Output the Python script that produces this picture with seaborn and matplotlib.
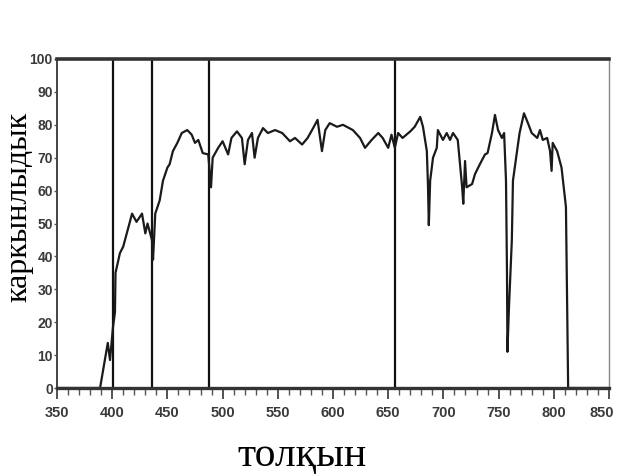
import numpy as np
import pandas as pd
import matplotlib
matplotlib.use("Agg")
import matplotlib.pyplot as plt
import matplotlib.transforms as mtransforms
import seaborn as sns

# ---- data ----
wavelength = [350, 380, 389, 396, 398, 400.7, 402.5, 403, 407, 410, 414, 418, 422, 427, 430, 432,
              436, 437, 439, 443, 446, 450, 452, 455, 459, 463, 468, 472, 475, 478, 482,
              487, 489.5, 491, 496, 500, 505, 508, 513, 517.5, 520, 523, 526.6, 529, 532,
              536.6, 541, 547.5, 554, 561, 565.6, 572, 577, 582, 586, 590, 593, 597, 603.6,
              609, 618, 624.5, 629, 635, 641, 645, 650, 653, 656, 659, 663, 670, 674, 679,
              681.5, 685, 686, 686.8, 688, 690.6, 694, 695, 699.6, 703, 706, 708.7, 713,
              717, 718, 719.6, 721, 726, 728.6, 733, 737.7, 740, 744, 746.7, 749.5, 753,
              755, 756.7, 757.6, 758, 759.4, 762, 763, 766.7, 769, 773, 776.6, 780, 785,
              787.5, 790, 794, 796.6, 798, 799, 803, 807, 808, 811, 812, 813, 830, 850]
intensity = [0, 0, 0, 13.7, 8.5, 18.5, 23, 35, 41, 43, 48, 53, 50.5, 53, 47, 50,
             45, 39, 53, 57, 63, 67, 68, 72, 74.5, 77.5, 78.4, 77, 74.5, 75.4, 71.4,
             71, 61, 70, 73, 75, 71, 76, 78, 76, 68, 75.4, 77.5, 70, 76,
             79, 77.5, 78.4, 77.5, 75, 76, 74, 76, 79, 81.5, 72, 78.4, 80.5, 79.4,
             80, 78.4, 76, 73, 75.4, 77.5, 76, 73, 77, 73, 77.5, 76, 78, 79.4, 82.4,
             79.4, 72, 62, 49.5, 63, 70, 73, 78.4, 75.4, 77.5, 75.4, 77.5, 75.4,
             61, 56, 69, 61, 62, 65, 68, 71, 71.4, 77.5, 83, 78.4, 76,
             77.5, 63, 35, 11, 24.6, 45, 63, 72, 77.5, 83.5, 80.5, 77.5, 76,
             78.4, 75.4, 76, 72, 66, 74.5, 72, 67, 64, 55, 27.6, 0, 0, 0]
line_positions = [401, 436, 488, 656]
x_major_ticks = [350, 400, 450, 500, 550, 600, 650, 700, 750, 800, 850]
y_major_ticks = [0, 10, 20, 30, 40, 50, 60, 70, 80, 90, 100]
x_label = "толқын"
y_label = "каркынлыдык"

df = pd.DataFrame({"wl": wavelength, "I": intensity})

sns.set_style("white")
plt.rcParams["font.family"] = ["DejaVu Sans"]

fig = plt.figure(figsize=(6.19, 4.74), dpi=100)
ax = fig.add_axes([57 / 619, 1 - 388 / 474, (609 - 57) / 619, (388 - 59) / 474])

sns.lineplot(data=df, x="wl", y="I", ax=ax, color="#1a1a1a", lw=1.6,
             sort=False, estimator=None)
for xv in line_positions:
    ax.axvline(xv, color="#111111", lw=1.6, zorder=1)

ax.set_xlim(350, 850)
ax.set_ylim(0, 100)
ax.set_xticks(x_major_ticks)
ax.set_xticks(np.arange(350, 851, 10), minor=True)
ax.set_yticks(y_major_ticks)
ax.set_xlabel("")
ax.set_ylabel("")

tick_font = ["Liberation Sans Narrow", "Liberation Sans"]
ax.set_xticklabels([str(t) for t in x_major_ticks], fontsize=10.5, fontweight="bold",
                   family=tick_font, color="#3a3a3a")
ax.set_yticklabels([str(t) for t in y_major_ticks], fontsize=10, fontweight="bold",
                   family=tick_font, color="#3a3a3a")
ax.tick_params(axis="x", which="major", direction="out", length=8, width=1.3,
               color="#444444", pad=5, bottom=True)
ax.tick_params(axis="x", which="minor", direction="out", length=5, width=1.0,
               color="#555555", bottom=True)
ax.tick_params(axis="y", which="major", direction="out", length=2, width=1.0,
               color="#555555", pad=1, left=True)

# keep the last x tick label inside the canvas
last = ax.get_xticklabels()[-1]
last.set_transform(last.get_transform() +
                   mtransforms.ScaledTranslation(-7 / 100, 0, fig.dpi_scale_trans))

for side, lw, col in [("top", 2.6, "#333333"), ("bottom", 2.4, "#333333"),
                      ("left", 1.4, "#444444"), ("right", 1.0, "#888888")]:
    ax.spines[side].set_visible(True)
    ax.spines[side].set_linewidth(lw)
    ax.spines[side].set_color(col)

fig.text(19 / 619, 1 - 207 / 474, y_label, rotation=90, ha="center", va="center",
         fontsize=23, family=["Liberation Serif", "DejaVu Serif"], color="black")
fig.text(302 / 619, 1 - 456 / 474, x_label, ha="center", va="center",
         fontsize=30, family=["Liberation Serif", "DejaVu Serif"], color="black")

fig.savefig("out.png", dpi=100, facecolor="white")
